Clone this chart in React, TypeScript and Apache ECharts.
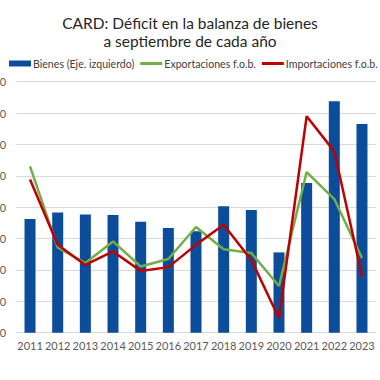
import React, { useEffect, useRef } from "react";
import * as echarts from "echarts";

const years = ["2011","2012","2013","2014","2015","2016","2017","2018","2019","2020","2021","2022","2023"];
const bienes = [18100, 19150, 18850, 18750, 17700, 16700, 16150, 20150, 19550, 12800, 23850, 36900, 33250];
const exportaciones = [23.0, -2.8, -7.8, -0.9, -8.9, -6.5, 3.7, -3.4, -4.6, -15.1, 21.2, 12.6, -6.2];
const importaciones = [18.8, -2.0, -8.4, -4.1, -10.3, -9.1, -2.0, 4.4, -6.8, -25.4, 39.0, 27.8, -11.9];

const FONT = "Lato";
const LINE_ICON = "path://M0,0H22V3H0Z";

export default function App() {
  const ref = useRef<HTMLDivElement>(null);
  useEffect(() => {
    if (!ref.current) return;
    const chart = echarts.init(ref.current, undefined, { renderer: "svg" });
    chart.setOption({
      animation: false,
      backgroundColor: "#ffffff",
      textStyle: { fontFamily: FONT },
      title: {
        text: "CARD: Déficit en la balanza de bienes\na septiembre de cada año",
        left: "center",
        top: 9,
        textStyle: { fontFamily: FONT, fontSize: 15.5, fontWeight: "normal", color: "#262626", lineHeight: 18 },
      },
      legend: {
        left: 44,
        top: 53,
        width: 600,
        itemWidth: 22,
        itemHeight: 6,
        itemGap: 6,
        symbolKeepAspect: true,
        textStyle: { fontFamily: FONT, fontSize: 10.6, color: "#404040", padding: [0, 0, 0, -3] },
        data: [
          { name: "Bienes (Eje. izquierdo)", icon: "rect" },
          { name: "Exportaciones f.o.b.", icon: LINE_ICON },
          { name: "Importaciones f.o.b.", icon: LINE_ICON },
        ],
      },
      grid: { left: 56.2, right: 44.2, top: 81.7, bottom: 47.3 },
      xAxis: {
        type: "category",
        data: years,
        axisTick: { show: false },
        axisLine: { lineStyle: { color: "#d9d9d9", width: 1 } },
        axisLabel: { color: "#595959", fontSize: 11, margin: 7, fontFamily: FONT, interval: 0 },
      },
      yAxis: [
        {
          type: "value",
          min: 0,
          max: 40000,
          interval: 5000,
          axisLabel: {
            color: "#595959",
            fontSize: 11,
            margin: 10,
            fontFamily: FONT,
            formatter: (v: number) => v.toLocaleString("en-US"),
          },
          splitLine: { lineStyle: { color: "#d9d9d9", width: 1 } },
          axisLine: { show: false },
          axisTick: { show: false },
        },
        {
          type: "value",
          min: -30,
          max: 50,
          interval: 10,
          axisLabel: { show: false },
          splitLine: { show: false },
          axisLine: { show: false },
          axisTick: { show: false },
        },
      ],
      series: [
        {
          name: "Bienes (Eje. izquierdo)",
          type: "bar",
          data: bienes,
          barWidth: 11,
          itemStyle: { color: "#0b4c9b" },
          yAxisIndex: 0,
        },
        {
          name: "Exportaciones f.o.b.",
          type: "line",
          data: exportaciones,
          yAxisIndex: 1,
          symbol: "none",
          lineStyle: { color: "#72ad45", width: 2.5 },
          itemStyle: { color: "#72ad45" },
        },
        {
          name: "Importaciones f.o.b.",
          type: "line",
          data: importaciones,
          yAxisIndex: 1,
          symbol: "none",
          lineStyle: { color: "#c00000", width: 2.5 },
          itemStyle: { color: "#c00000" },
        },
      ],
    });
    return () => chart.dispose();
  }, []);
  return (
    <div style={{ position: "fixed", left: 0, top: 0, width: 380, height: 380, overflow: "hidden", background: "#fff" }}>
      <div ref={ref} style={{ position: "absolute", left: -40, top: 0, width: 460, height: 380 }} />
    </div>
  );
}
